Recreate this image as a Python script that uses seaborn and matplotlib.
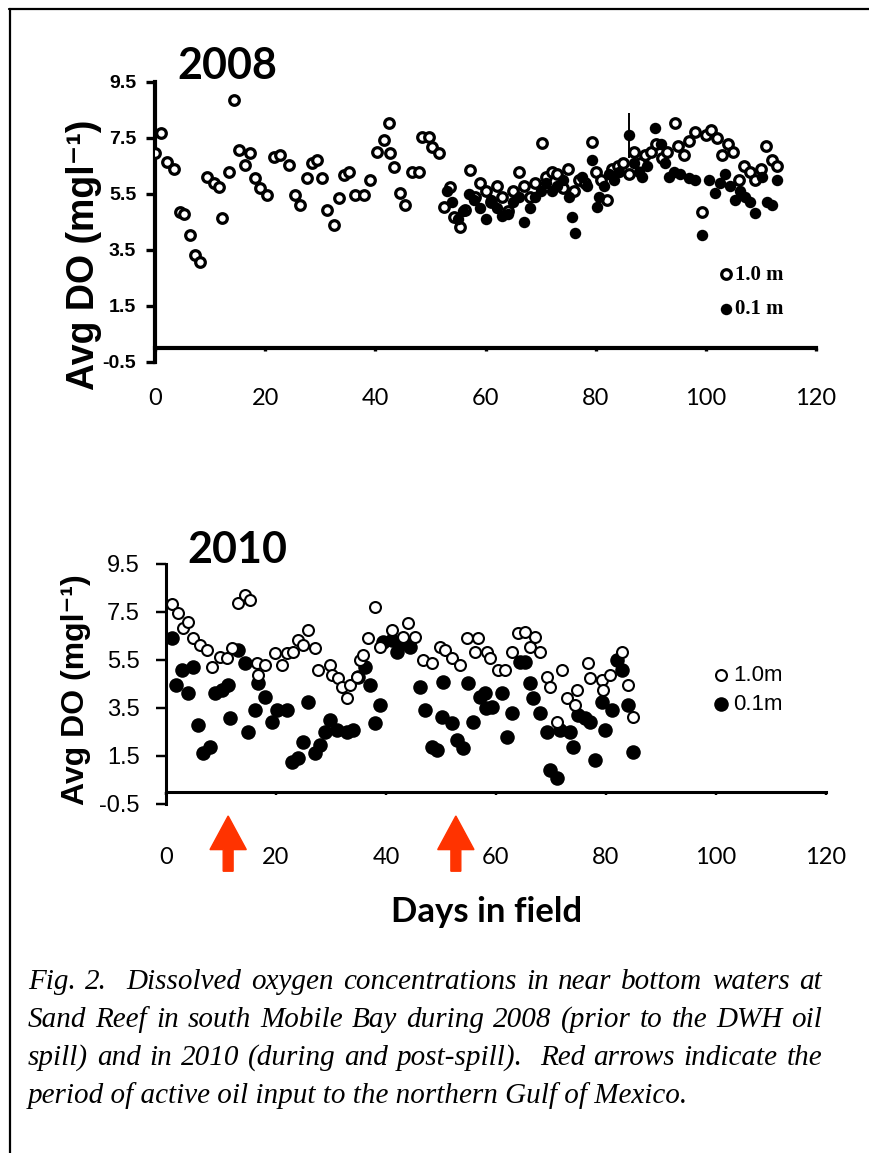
import re
import numpy as np
import pandas as pd
import matplotlib
matplotlib.use("Agg")
import matplotlib.pyplot as plt
from matplotlib import font_manager
from matplotlib.lines import Line2D
from matplotlib.patches import FancyArrow
import seaborn as sns

# ---------------- data ----------------
# 2008, 1.0 m above bottom (open circles)
day08_1m = [0, 1, 2.2, 3.4, 4.6, 5.3, 6.4, 7.3, 8.2, 9.4,
            10.7, 11.6, 12.2, 13.4, 14.3, 15.2, 16.3, 17.2, 18.1, 19.1,
            20.3, 21.6, 22.7, 24.3, 25.4, 26.3, 27.6, 28.5, 29.4, 30.3,
            31.2, 32.5, 33.4, 34.3, 35.2, 36.3, 37.9, 39.0, 40.3, 41.5,
            42.5, 42.6, 43.4, 44.5, 45.4, 46.6, 47.9, 48.5, 49.7, 50.3,
            51.5, 52.5, 53.5, 54.3, 55.4, 56.3, 57.2, 58.1, 59, 60,
            61, 62, 63, 64, 65, 66, 67, 68, 69, 70.2,
            71, 72, 73, 74, 75, 76, 77, 78, 79.3, 80,
            81, 82, 83, 84, 85, 86, 87, 88, 89, 90,
            91, 92, 93, 94.4, 95, 96, 97, 98, 99.3, 100,
            101, 102, 103, 104, 105, 106, 107, 108, 109, 110, 111, 112, 113]
do08_1m = [6.96, 7.68, 6.64, 6.4, 4.86, 4.8, 4.04, 3.32, 3.07, 6.1,
           5.9, 5.75, 4.64, 6.3, 8.86, 7.07, 6.54, 6.96, 6.07, 5.71,
           5.46, 6.82, 6.89, 6.54, 5.46, 5.11, 6.07, 6.6, 6.71, 6.07,
           4.93, 4.39, 5.36, 6.18, 6.29, 5.46, 5.46, 6.0, 7.0, 7.43,
           8.04, 6.96, 6.46, 5.54, 5.11, 6.29, 6.29, 7.54, 7.54, 7.18,
           6.96, 5.04, 5.75, 4.68, 4.32, 4.93, 6.36, 5.39, 5.9, 5.6,
           5.2, 5.8, 5.4, 4.9, 5.6, 6.3, 5.8, 5.4, 5.9, 7.32,
           6.1, 6.3, 6.2, 5.7, 6.4, 5.6, 6.0, 5.9, 7.36, 6.3,
           6.0, 5.3, 6.4, 6.5, 6.6, 6.2, 7.0, 6.6, 6.9, 7.0,
           7.3, 6.8, 7.0, 8.04, 7.2, 6.9, 7.4, 7.7, 4.86, 7.6,
           7.8, 7.5, 6.9, 7.3, 7.0, 6.0, 6.5, 6.3, 6.0, 6.4, 7.2, 6.7, 6.5]

# 2008, 0.1 m above bottom (filled circles)
day08_01m = [53, 54, 55, 56, 57, 58, 59, 60, 61, 62, 63, 64, 65, 66, 67, 68,
             69, 70, 71, 72, 73, 74,
             75.1, 75.7, 76.3, 77.5, 78.4, 79.3, 80.2, 80.6, 81.5, 82.4,
             83.3, 84.2, 86, 86.9, 87.8, 88.4, 89.4, 90.7, 91.8, 92.5,
             93.3, 94.3, 95.3, 96.9, 98.0, 99.3, 100.5, 101.6, 102.5, 103.4,
             104.3, 105.3, 106.2, 107.1, 108.0, 108.9, 110.2, 111.1, 112.0, 113.0]
do08_01m = [5.6, 5.2, 4.6, 4.9, 5.5, 5.3, 5.0, 4.6, 5.3, 5.0, 4.7, 4.8, 5.2, 5.4,
            4.5, 5.0, 5.4, 5.6, 5.9, 5.6, 5.8, 6.0,
            5.39, 4.68, 4.11, 6.1, 5.8, 6.7, 5.04, 5.39, 5.8, 6.2,
            6.0, 6.3, 7.6, 6.6, 6.3, 6.1, 6.5, 7.86, 7.3, 6.6,
            6.1, 6.3, 6.2, 6.07, 6.0, 4.04, 6.0, 5.54, 5.9, 6.2,
            5.8, 5.29, 5.6, 5.4, 5.2, 4.82, 6.1, 5.2, 5.1, 6.0]

# single 2008 reading shown with its spread
err_day08 = [86]
err_do08 = [7.6]
err_sd08 = [0.8]

# 2010, 1.0 m above bottom (open circles)
day10_1m = [1.1, 2.2, 3.1, 4.0, 4.9, 6.2, 7.5, 8.4, 9.8, 11.1,
            12.0, 13.1, 14.4, 15.3, 16.5, 16.8, 18.0, 19.8, 21.1, 22.0,
            23.1, 24.0, 24.9, 25.8, 27.1, 27.6, 29.8, 30.2, 31.3, 32.0,
            32.9, 33.5, 34.7, 35.3, 35.8, 36.7, 38.0, 38.9, 41.1, 43.1,
            44.0, 45.3, 46.7, 48.4, 49.8, 50.7, 52.0, 53.5, 54.7, 56.2,
            56.7, 58.4, 58.9, 60.4, 61.6, 62.9, 64.0, 65.3, 66.2, 67.1,
            68.0, 69.3, 69.8, 71.1, 72.0, 72.9, 74.4, 74.7, 76.7, 77.1,
            79.3, 79.5, 80.7, 82.9, 84.0, 84.9]
do10_1m = [7.83, 7.46, 6.83, 7.08, 6.42, 6.13, 5.92, 5.21, 5.63, 5.58,
           6.0, 7.87, 8.21, 8.0, 5.37, 4.87, 5.29, 5.79, 5.29, 5.79,
           5.83, 6.33, 6.13, 6.75, 6.0, 5.08, 5.29, 4.87, 4.75, 4.38,
           3.92, 4.46, 4.79, 5.5, 5.71, 6.42, 7.71, 6.04, 6.75, 6.46,
           7.04, 6.46, 5.5, 5.37, 6.04, 5.92, 5.58, 5.29, 6.42, 5.83,
           6.42, 5.83, 5.58, 5.08, 5.08, 5.83, 6.63, 6.67, 6.04, 6.46,
           5.83, 4.79, 4.38, 2.92, 5.08, 3.92, 3.63, 4.25, 5.37, 4.75,
           4.67, 4.25, 4.87, 5.83, 4.46, 3.13]

# 2010, 0.1 m above bottom (filled circles)
day10_01m = [1.1, 1.9, 2.9, 4.0, 4.9, 5.8, 6.7, 8.0, 8.9, 10.2,
             11.3, 11.6, 13.1, 14.4, 14.9, 16.2, 16.7, 18.0, 19.3, 20.2,
             22.0, 22.9, 24.0, 24.9, 25.8, 27.1, 28.0, 28.9, 29.8, 31.1,
             32.9, 34.0, 34.9, 36.2, 37.1, 38.0, 38.9, 39.5, 41.1, 42.0,
             43.1, 44.4, 46.2, 47.1, 48.4, 49.3, 50.2, 50.4, 52.0, 52.9,
             54.0, 54.9, 55.8, 57.1, 58.0, 58.2, 59.3, 61.1, 62.0, 62.9,
             64.4, 65.3, 66.2, 66.7, 68.0, 69.3, 69.8, 71.1, 71.6, 73.5,
             74.0, 74.9, 76.2, 77.1, 78.0, 79.3, 79.8, 81.1, 82.0, 82.9,
             84.0, 84.9]
do10_01m = [6.42, 4.46, 5.08, 4.13, 5.21, 2.79, 1.62, 1.88, 4.13, 4.25,
            4.46, 3.08, 5.92, 5.37, 2.5, 3.42, 4.54, 3.96, 2.92, 3.42,
            3.42, 1.25, 1.42, 2.08, 3.75, 1.62, 1.96, 2.5, 3.0, 2.58,
            2.5, 2.58, 4.79, 5.21, 4.46, 2.88, 3.63, 6.25, 6.33, 5.83,
            6.25, 6.04, 4.38, 3.42, 1.88, 1.75, 3.13, 4.58, 2.88, 2.17,
            1.83, 4.54, 2.92, 3.96, 4.13, 3.5, 3.54, 4.13, 2.29, 3.29,
            5.42, 5.42, 4.54, 3.92, 3.29, 2.5, 0.92, 0.58, 2.58, 2.5,
            1.88, 3.21, 3.08, 2.92, 1.33, 3.75, 2.58, 3.42, 5.5, 5.08,
            3.63, 1.67]

# start and end of active oil input (days in field, 2010)
oil_input_days = [11.3, 52.7]

x_ticks = [0, 20, 40, 60, 80, 100, 120]
y_ticks = [-0.5, 1.5, 3.5, 5.5, 7.5, 9.5]
y_tick_labels = ["-0.5", "1.5", "3.5", "5.5", "7.5", "9.5"]

caption_lines = [
    "Fig. 2.  Dissolved oxygen concentrations in near bottom waters at",
    "Sand Reef in south Mobile Bay during 2008 (prior to the DWH oil",
    "spill) and in 2010 (during and post-spill).  Red arrows indicate the",
    "period of active oil input to the northern Gulf of Mexico.",
]

# ---------------- figure ----------------
sns.set_theme(style="white")
plt.rcParams["font.family"] = ["Liberation Sans", "DejaVu Sans"]
plt.rcParams.update({"text.color": "black", "axes.labelcolor": "black",
                     "xtick.color": "black", "ytick.color": "black"})

W, H = 870, 1153
fig = plt.figure(figsize=(W / 100, H / 100), dpi=100)
fig.patch.set_facecolor("white")

installed = {f.name for f in font_manager.fontManager.ttflist}
title_family = "Liberation Sans Narrow" if "Liberation Sans Narrow" in installed else "Lato"
title_size = 36 if title_family != "Lato" else 31


def frac_box(left, top, right, bottom):
    return [left / W, 1 - bottom / H, (right - left) / W, (bottom - top) / H]


def fx(px):
    return px / W


def fy(py):
    return 1 - py / H


ax1 = fig.add_axes(frac_box(155, 82, 816, 362))
ax2 = fig.add_axes(frac_box(166, 564, 826, 804))

# 2008 panel
df08a = pd.DataFrame({"day": day08_1m, "do": do08_1m})
df08b = pd.DataFrame({"day": day08_01m, "do": do08_01m})
sns.scatterplot(data=df08a, x="day", y="do", ax=ax1, marker="o", s=48,
                color="white", edgecolor="black", linewidth=2.3,
                label="1.0 m", zorder=3)
sns.scatterplot(data=df08b, x="day", y="do", ax=ax1, marker="o", s=68,
                color="black", edgecolor="black", linewidth=0,
                label="0.1 m", zorder=4)
ax1.errorbar(err_day08, err_do08, yerr=err_sd08, fmt="none",
             ecolor="black", elinewidth=1.4, capsize=0, zorder=5)

# 2010 panel
df10a = pd.DataFrame({"day": day10_1m, "do": do10_1m})
df10b = pd.DataFrame({"day": day10_01m, "do": do10_01m})
sns.scatterplot(data=df10b, x="day", y="do", ax=ax2, marker="o", s=110,
                color="black", edgecolor="black", linewidth=0,
                label="0.1m", zorder=3)
sns.scatterplot(data=df10a, x="day", y="do", ax=ax2, marker="o", s=62,
                color="white", edgecolor="black", linewidth=1.5,
                label="1.0m", zorder=4)


def style_axes(ax, spine_lw, ylen, ypad, xpad, ytick_font):
    ax.set_xlim(0, 120)
    ax.set_ylim(-0.5, 9.5)
    ax.set_facecolor("none")
    ax.set_xlabel("")
    ax.set_ylabel("")
    ax.spines["top"].set_visible(False)
    ax.spines["right"].set_visible(False)
    ax.spines["bottom"].set_position(("data", 0))
    for side in ("left", "bottom"):
        ax.spines[side].set_color("black")
        ax.spines[side].set_linewidth(spine_lw)
    ax.set_xticks(x_ticks)
    ax.set_xticklabels([str(v) for v in x_ticks], fontfamily="Lato",
                       fontsize=17, color="black")
    ax.set_yticks(y_ticks)
    ax.set_yticklabels(y_tick_labels, color="black", **ytick_font)
    ax.tick_params(axis="y", left=True, direction="out", length=ylen,
                   width=spine_lw * 0.8, color="black", pad=ypad)
    ax.tick_params(axis="x", bottom=True, direction="out", length=2.5,
                   width=spine_lw * 0.8, color="black", pad=xpad)
    ax.grid(False)


style_axes(ax1, 3.0, 6.5, 7, 26,
           dict(fontfamily="Liberation Sans", fontweight="heavy", fontsize=14))
style_axes(ax2, 2.2, 7, 12, 37,
           dict(fontfamily="Liberation Sans", fontsize=17))

# legends
h1 = ax1.collections[:2]
ax1.legend(h1, ["1.0 m", "0.1 m"], loc="center left",
           bbox_to_anchor=(fx(720), fy(292)), bbox_transform=fig.transFigure,
           frameon=False, handlelength=0.6, handletextpad=0.1,
           labelspacing=0.7, borderpad=0, borderaxespad=0,
           prop=dict(family="Liberation Serif", weight="bold", size=15))
h2 = [ax2.collections[1], ax2.collections[0]]
ax2.legend(h2, ["1.0m", "0.1m"], loc="center left",
           bbox_to_anchor=(fx(714), fy(690)), bbox_transform=fig.transFigure,
           frameon=False, handlelength=0.6, handletextpad=0.25,
           labelspacing=0.35, borderpad=0, borderaxespad=0,
           prop=dict(family="Liberation Sans", size=16))

# arrows marking the period of oil input
for d in oil_input_days:
    ax2.add_patch(FancyArrow(d, -3.3, 0, 2.3, width=1.8, head_width=6.6,
                             head_length=1.4, length_includes_head=True,
                             color="#ff3300", clip_on=False, zorder=6))

# panel titles and axis labels
fig.text(fx(227), fy(66), "2008", ha="center", va="center",
         fontfamily=title_family, fontweight="bold", fontsize=title_size)
fig.text(fx(237), fy(550), "2010", ha="center", va="center",
         fontfamily=title_family, fontweight="bold", fontsize=title_size)
fig.text(fx(84), fy(255), "Avg DO (mgl\u207b\u00b9)", rotation=90,
         ha="center", va="center", fontweight="bold", fontsize=27,
         family=["Liberation Sans", "DejaVu Sans"])
fig.text(fx(76), fy(690), "Avg DO (mgl\u207b\u00b9)", rotation=90,
         ha="center", va="center", fontweight="bold", fontsize=23,
         family=["Liberation Sans", "DejaVu Sans"])
fig.text(fx(487), fy(912), "Days in field", ha="center", va="center",
         fontfamily="Lato", fontweight="bold", fontsize=25)

# frame lines along the top and left edges
fig.add_artist(Line2D([fx(9), 1], [fy(9), fy(9)], transform=fig.transFigure,
                      color="black", lw=1.6))
fig.add_artist(Line2D([fx(10), fx(10)], [0, fy(9)], transform=fig.transFigure,
                      color="black", lw=1.6))

# justified italic caption
renderer = fig.canvas.get_renderer()
cap_left, cap_right = 28, 822
baselines = [989, 1027, 1065, 1103]
cap_font = dict(fontfamily="Liberation Serif", fontstyle="italic",
                fontsize=21, color="black")
for i, line in enumerate(caption_lines):
    y = fy(baselines[i])
    if i == len(caption_lines) - 1:
        fig.text(fx(cap_left), y, line, ha="left", va="baseline", **cap_font)
        continue
    parts = re.split(r"( +)", line)
    words = parts[0::2]
    gaps = [len(g) for g in parts[1::2]]
    texts, widths = [], []
    for w in words:
        t = fig.text(0, y, w, ha="left", va="baseline", **cap_font)
        widths.append(t.get_window_extent(renderer).width)
        texts.append(t)
    unit = (cap_right - cap_left - sum(widths)) / sum(gaps)
    x = cap_left
    for k, t in enumerate(texts):
        t.set_x(fx(x))
        x += widths[k]
        if k < len(gaps):
            x += gaps[k] * unit

fig.savefig("out.png", dpi=100, facecolor="white")
